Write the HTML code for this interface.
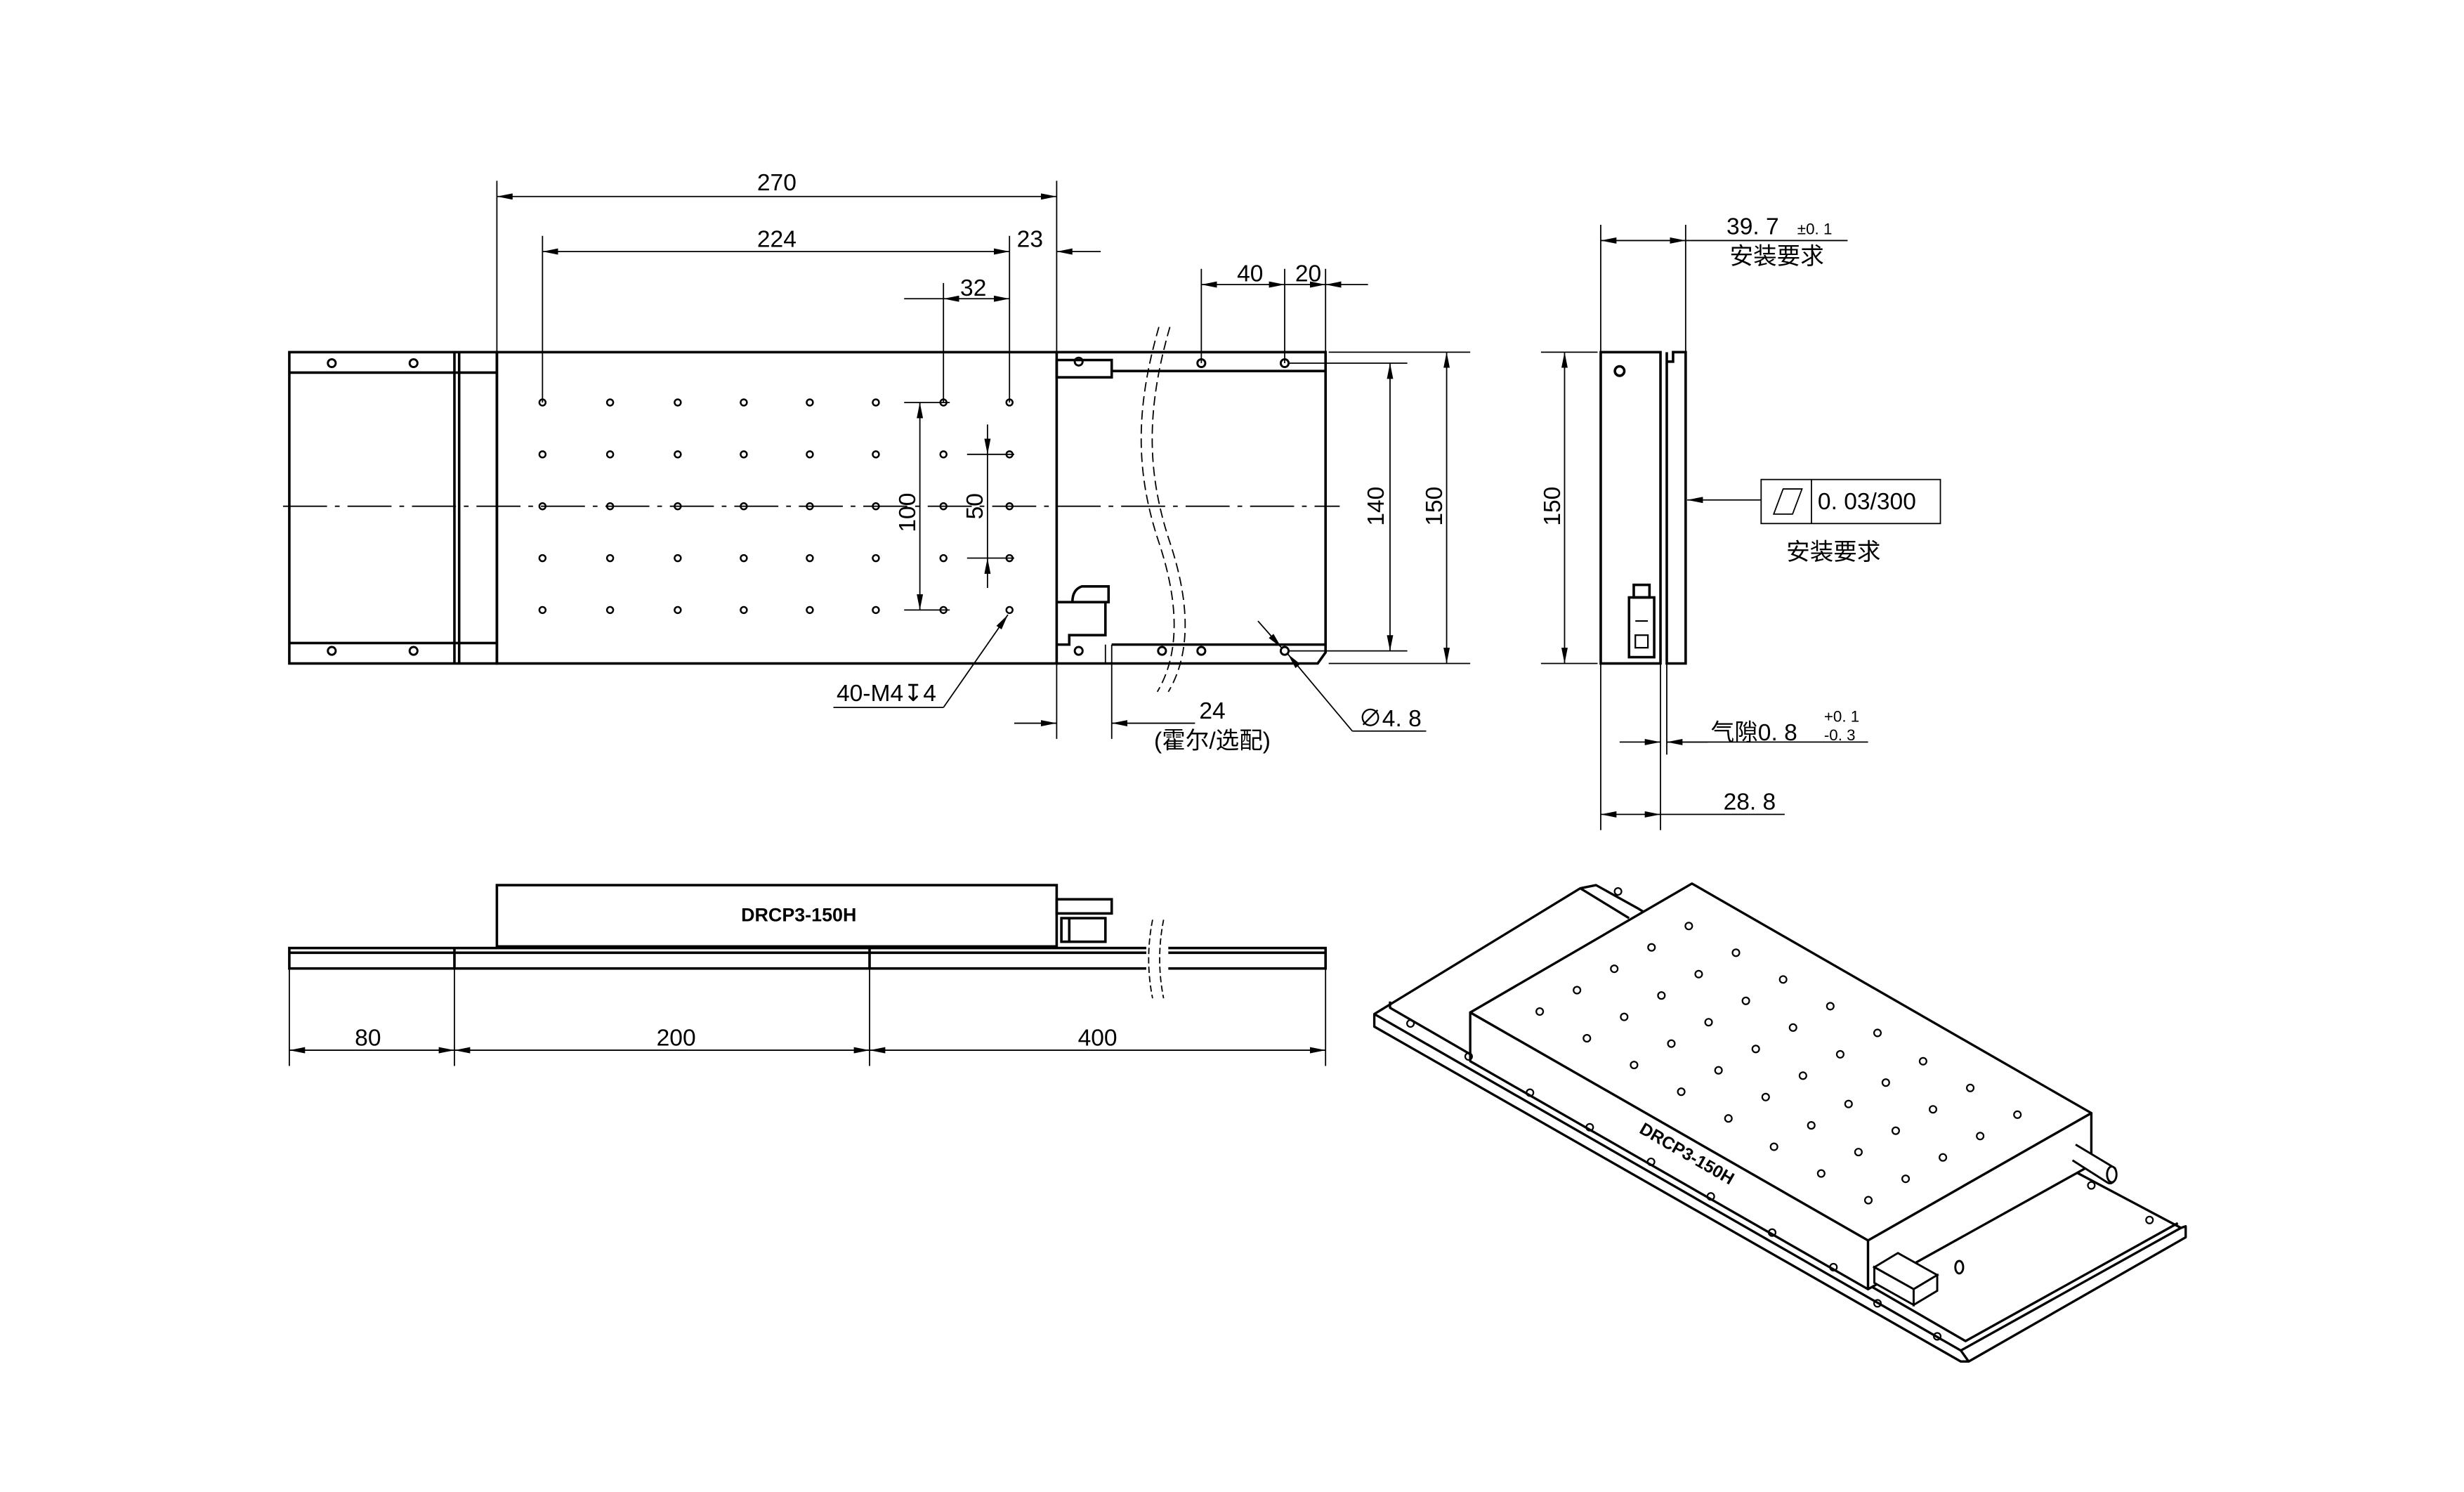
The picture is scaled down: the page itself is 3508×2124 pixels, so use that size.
<!DOCTYPE html>
<html><head><meta charset="utf-8"><style>html,body{margin:0;padding:0;background:#fff}svg{display:block}text{font-family:"Liberation Sans","Noto Sans CJK SC",sans-serif;fill:#000}</style></head><body>
<svg width="3508" height="2124" viewBox="0 0 1567 949" preserveAspectRatio="none" xmlns="http://www.w3.org/2000/svg">
<defs>
<marker id="a" viewBox="0 0 10 4" refX="10" refY="2" markerWidth="10" markerHeight="4" markerUnits="userSpaceOnUse" orient="auto-start-reverse"><path d="M0,0L10,2L0,4z" fill="#000"/></marker>
</defs>
<rect width="1567" height="949" fill="#fff"/>
<g fill="none" stroke="#000" stroke-width="1.6">
<rect x="184" y="224" width="132" height="198"/>
<line x1="184" y1="237" x2="316" y2="237"/><line x1="184" y1="409" x2="316" y2="409"/>
<line x1="289" y1="224" x2="289" y2="422"/><line x1="292" y1="224" x2="292" y2="422"/>
<rect x="316" y="224" width="356" height="198"/>
<path d="M672,224H843V415L838,422H672"/>
<line x1="707" y1="236" x2="843" y2="236"/>
<line x1="707" y1="410" x2="843" y2="410"/>
<rect x="672" y="229" width="35" height="11"/>
<path d="M672,383H705V373H688Q682,375 682,383"/>
<path d="M672,410H680V404H703V383"/>
<line x1="703" y1="410" x2="703" y2="422" stroke-width="0.8"/>
</g>
<g fill="none" stroke="#000" stroke-width="1.3">
<circle cx="211" cy="231" r="2.5"/><circle cx="263" cy="231" r="2.5"/><circle cx="211" cy="414" r="2.5"/><circle cx="263" cy="414" r="2.5"/>
<circle cx="764" cy="231" r="2.5"/><circle cx="817" cy="231" r="2.5"/>
<circle cx="686" cy="414" r="2.5"/><circle cx="739" cy="414" r="2.5"/><circle cx="764" cy="414" r="2.5"/><circle cx="817" cy="414" r="2.5"/>
<circle cx="686" cy="230" r="2.5"/>
</g>
<g fill="none" stroke="#000" stroke-width="1.1">
<g id="row">
<circle cx="345" cy="256" r="2"/><circle cx="388" cy="256" r="2"/><circle cx="431" cy="256" r="2"/><circle cx="473" cy="256" r="2"/><circle cx="515" cy="256" r="2"/><circle cx="557" cy="256" r="2"/><circle cx="600" cy="256" r="2"/><circle cx="642" cy="256" r="2"/>
</g>
<use href="#row" y="33"/><use href="#row" y="66"/><use href="#row" y="99"/><use href="#row" y="132"/>
</g>
<g fill="none" stroke="#000" stroke-width="0.8">
<line x1="180" y1="322" x2="852" y2="322" stroke-dasharray="28,5,3,5"/>
<path d="M737,208C722,260 722,300 737,345C752,390 748,420 736,440" stroke-dasharray="6,3" fill="none"/>
<path d="M744,208C729,260 729,300 744,345C759,390 755,420 743,440" stroke-dasharray="6,3" fill="none"/>
<line x1="316" y1="224" x2="316" y2="115"/><line x1="672" y1="224" x2="672" y2="115"/>
<line x1="316" y1="125" x2="672" y2="125" marker-start="url(#a)" marker-end="url(#a)"/>
<line x1="345" y1="256" x2="345" y2="150"/><line x1="642" y1="256" x2="642" y2="150"/>
<line x1="345" y1="160" x2="642" y2="160" marker-start="url(#a)" marker-end="url(#a)"/>
<line x1="700" y1="160" x2="672" y2="160" marker-end="url(#a)"/>
<line x1="600" y1="256" x2="600" y2="180"/>
<line x1="600" y1="190" x2="642" y2="190" marker-start="url(#a)" marker-end="url(#a)"/>
<line x1="575" y1="190" x2="600" y2="190"/>
<line x1="764" y1="231" x2="764" y2="171"/><line x1="817" y1="231" x2="817" y2="171"/><line x1="843" y1="224" x2="843" y2="171"/>
<line x1="764" y1="181" x2="817" y2="181" marker-start="url(#a)" marker-end="url(#a)"/>
<line x1="817" y1="181" x2="843" y2="181" marker-end="url(#a)"/>
<line x1="870" y1="181" x2="843" y2="181" marker-end="url(#a)"/>
<line x1="845" y1="224" x2="935" y2="224"/><line x1="845" y1="422" x2="935" y2="422"/>
<line x1="820" y1="231" x2="895" y2="231"/><line x1="820" y1="414" x2="895" y2="414"/>
<line x1="884" y1="231" x2="884" y2="414" marker-start="url(#a)" marker-end="url(#a)"/>
<line x1="920" y1="224" x2="920" y2="422" marker-start="url(#a)" marker-end="url(#a)"/>
<line x1="575" y1="256" x2="604" y2="256"/><line x1="575" y1="388" x2="604" y2="388"/>
<line x1="585" y1="256" x2="585" y2="388" marker-start="url(#a)" marker-end="url(#a)"/>
<line x1="615" y1="289" x2="645" y2="289"/><line x1="615" y1="355" x2="645" y2="355"/>
<line x1="628" y1="270" x2="628" y2="289" marker-end="url(#a)"/>
<line x1="628" y1="374" x2="628" y2="355" marker-end="url(#a)"/>
<line x1="628" y1="289" x2="628" y2="355"/>
<polyline points="600,450 530,450"/><line x1="600" y1="450" x2="641" y2="391" marker-end="url(#a)"/>
<line x1="672" y1="422" x2="672" y2="470"/><line x1="707" y1="410" x2="707" y2="470"/>
<line x1="645" y1="460" x2="672" y2="460" marker-end="url(#a)"/>
<line x1="760" y1="460" x2="707" y2="460" marker-end="url(#a)"/>
<line x1="800" y1="395" x2="815" y2="412" marker-end="url(#a)"/>
<polyline points="860,465 907,465"/><line x1="860" y1="465" x2="819" y2="416" marker-end="url(#a)"/>
</g>
<g font-size="15">
<text x="494" y="121" text-anchor="middle">270</text>
<text x="494" y="157" text-anchor="middle">224</text>
<text x="655" y="157" text-anchor="middle">23</text>
<text x="619" y="188" text-anchor="middle">32</text>
<text x="795" y="179" text-anchor="middle">40</text>
<text x="832" y="179" text-anchor="middle">20</text>
<text transform="translate(880,322) rotate(-90)" text-anchor="middle">140</text>
<text transform="translate(917,322) rotate(-90)" text-anchor="middle">150</text>
<text transform="translate(582,326) rotate(-90)" text-anchor="middle">100</text>
<text transform="translate(625,322) rotate(-90)" text-anchor="middle">50</text>
<text x="532" y="446">40-M4↧4</text>
<text x="771" y="457" text-anchor="middle">24</text>
<text x="771" y="476" text-anchor="middle">(霍尔/选配)</text>
<text x="864" y="462">∅4. 8</text>
</g>
<g fill="none" stroke="#000" stroke-width="1.6">
<rect x="1018" y="224" width="38" height="198"/>
<path d="M1060,224V230H1064V224H1072V422H1060Z"/>
<rect x="1036" y="380" width="16" height="38"/>
<rect x="1039" y="372" width="10" height="8"/>
<circle cx="1030" cy="236" r="3"/>
</g>
<g fill="none" stroke="#000" stroke-width="1">
<line x1="1040" y1="395" x2="1048" y2="395"/><rect x="1040" y="404" width="8" height="8"/>
</g>
<g fill="none" stroke="#000" stroke-width="0.8">
<line x1="1018" y1="224" x2="1018" y2="143"/><line x1="1072" y1="224" x2="1072" y2="143"/>
<line x1="1018" y1="153" x2="1072" y2="153" marker-start="url(#a)" marker-end="url(#a)"/>
<line x1="1072" y1="153" x2="1175" y2="153"/>
<line x1="980" y1="224" x2="1016" y2="224"/><line x1="980" y1="422" x2="1016" y2="422"/>
<line x1="995" y1="224" x2="995" y2="422" marker-start="url(#a)" marker-end="url(#a)"/>
<rect x="1120" y="305" width="114" height="28"/><line x1="1152" y1="305" x2="1152" y2="333"/>
<path d="M1128,327L1134,311H1146L1140,327Z"/>
<line x1="1120" y1="318" x2="1073" y2="318" marker-end="url(#a)"/>
<line x1="1018" y1="422" x2="1018" y2="528"/><line x1="1056" y1="422" x2="1056" y2="528"/><line x1="1060" y1="422" x2="1060" y2="480"/>
<line x1="1030" y1="472" x2="1056" y2="472" marker-end="url(#a)"/>
<line x1="1086" y1="472" x2="1060" y2="472" marker-end="url(#a)"/>
<line x1="1060" y1="472" x2="1188" y2="472"/>
<line x1="1018" y1="518" x2="1056" y2="518" marker-start="url(#a)" marker-end="url(#a)"/>
<line x1="1056" y1="518" x2="1135" y2="518"/>
</g>
<g font-size="15">
<text x="1098" y="149">39. 7</text><text x="1143" y="149" font-size="10">±0. 1</text>
<text x="1100" y="168">安装要求</text>
<text transform="translate(992,322) rotate(-90)" text-anchor="middle">150</text>
<text x="1156" y="324">0. 03/300</text>
<text x="1136" y="356">安装要求</text>
<text x="1088" y="471">气隙0. 8</text><text x="1160" y="459" font-size="10">+0. 1</text><text x="1160" y="471" font-size="10">-0. 3</text>
<text x="1096" y="515">28. 8</text>
</g>
<g fill="none" stroke="#000" stroke-width="1.6">
<rect x="184" y="603" width="659" height="13"/>
<line x1="184" y1="606" x2="843" y2="606"/>
<line x1="289" y1="603" x2="289" y2="616"/><line x1="553" y1="603" x2="553" y2="616"/>
<rect x="316" y="563" width="356" height="39"/>
<rect x="672" y="572" width="35" height="9"/>
<rect x="675" y="584" width="28" height="15"/>
<line x1="680" y1="584" x2="680" y2="599"/>
</g>
<rect x="729" y="585" width="14" height="50" fill="#fff"/>
<g fill="none" stroke="#000" stroke-width="0.8">
<path d="M733,585Q728,610 733,635" stroke-dasharray="4,2"/><path d="M740,585Q735,610 740,635" stroke-dasharray="4,2"/>
<line x1="184" y1="616" x2="184" y2="678"/><line x1="289" y1="616" x2="289" y2="678"/><line x1="553" y1="616" x2="553" y2="678"/><line x1="843" y1="616" x2="843" y2="678"/>
<line x1="184" y1="668" x2="289" y2="668" marker-start="url(#a)" marker-end="url(#a)"/>
<line x1="289" y1="668" x2="553" y2="668" marker-start="url(#a)" marker-end="url(#a)"/>
<line x1="553" y1="668" x2="843" y2="668" marker-start="url(#a)" marker-end="url(#a)"/>
</g>
<text x="508" y="586" font-size="12" font-weight="bold" text-anchor="middle">DRCP3-150H</text>
<g font-size="15" text-anchor="middle">
<text x="234" y="665">80</text><text x="430" y="665">200</text><text x="698" y="665">400</text>
</g>
<g fill="#fff" stroke="#000" stroke-width="1.5" stroke-linejoin="round">
<polygon points="874,645 1005,565 1015,563 1042,578 1321,746 1387,781 1390,780 1390,787 1252,866 1247,866 874,653"/>
<polyline points="874,645 1247,859 1252,866" fill="none"/>
<polyline points="1247,859 1387,781" fill="none"/>
<polyline points="884,637 884,641 1250,853 1385,778" fill="none"/>
<polyline points="1005,565 1036,584" fill="none"/>
<polygon points="1076,562 1330,708 1188,789 935,644"/>
<polygon points="935,644 1188,789 1188,820 935,675"/>
<polygon points="1188,789 1330,708 1330,741 1188,820"/>
</g>
<g fill="#fff" stroke="#000" stroke-width="1.3">
<path d="M1320,728L1345,743A4,6 0 0 1 1340,752L1318,738"/>
<ellipse cx="1343" cy="747" rx="3" ry="5"/>
<polygon points="1192,806 1207,797 1232,811 1217,820"/>
<polygon points="1192,806 1217,820 1217,830 1192,816"/>
<polygon points="1217,820 1232,811 1232,821 1217,830"/>
<ellipse cx="1246" cy="806" rx="2.5" ry="4"/>
</g>
<g fill="none" stroke="#000" stroke-width="1">
<circle cx="897" cy="651" r="2.2"/><circle cx="934" cy="672" r="2.2"/><circle cx="973" cy="695" r="2.2"/><circle cx="1011" cy="717" r="2.2"/><circle cx="1050" cy="739" r="2.2"/><circle cx="1088" cy="761" r="2.2"/><circle cx="1127" cy="784" r="2.2"/><circle cx="1166" cy="806" r="2.2"/><circle cx="1194" cy="829" r="2.2"/><circle cx="1232" cy="850" r="2.2"/>
<circle cx="1029" cy="567" r="2.2"/><circle cx="1330" cy="754" r="2.2"/><circle cx="1367" cy="776" r="2.2"/>
<g id="r3">
<circle cx="1074" cy="589" r="2.2"/><circle cx="1104" cy="606" r="2.2"/><circle cx="1134" cy="623" r="2.2"/><circle cx="1164" cy="640" r="2.2"/><circle cx="1194" cy="657" r="2.2"/><circle cx="1223" cy="675" r="2.2"/><circle cx="1253" cy="692" r="2.2"/><circle cx="1283" cy="709" r="2.2"/>
</g>
<use href="#r3" x="-23.7" y="13.6"/><use href="#r3" x="-47.4" y="27.2"/><use href="#r3" x="-71.1" y="40.8"/><use href="#r3" x="-94.8" y="54.4"/>
</g>
<text transform="translate(1071,737) rotate(30)" font-size="11" font-weight="bold" text-anchor="middle">DRCP3-150H</text>
</svg>
</body></html>
